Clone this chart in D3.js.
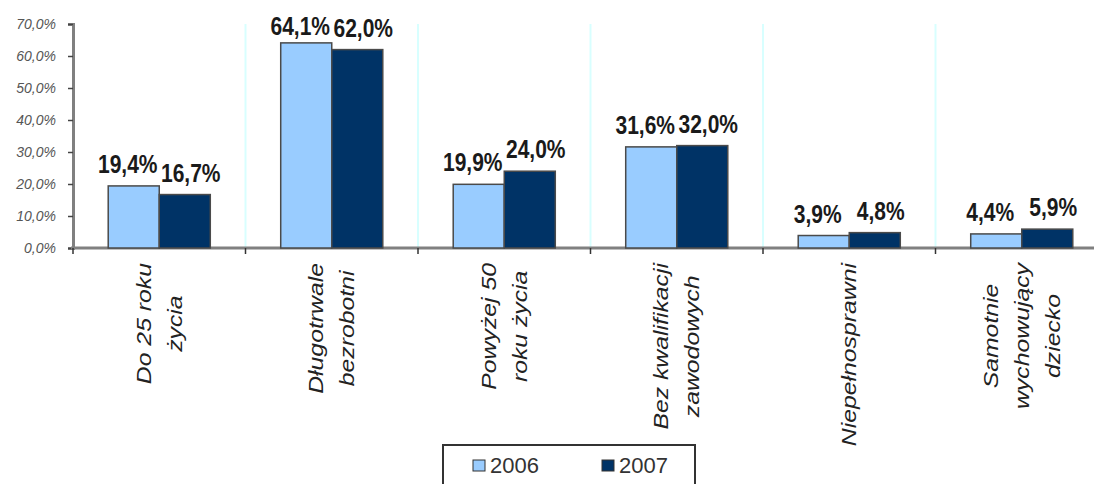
<!doctype html>
<html>
<head>
<meta charset="utf-8">
<title>Bezrobotni 2006-2007</title>
<style>
    body { margin: 0; background: #fff; }
    svg { display: block; font-family: "Liberation Sans", Arial, sans-serif; }
    .bar { stroke: #4a4a4a; stroke-width: 1.5; }
</style>
<script src="https://d3js.org/d3.v7.min.js"></script>
</head>
<body>
<svg width="1094" height="484"></svg>
<script>
// data
var categories = [
    "Do 25 roku\nżycia",
    "Długotrwale\nbezrobotni",
    "Powyżej 50\nroku życia",
    "Bez kwalifikacji\nzawodowych",
    "Niepełnosprawni",
    "Samotnie\nwychowujący\ndziecko"
];
var years = ["2006", "2007"];
var values2006 = [19.4, 64.1, 19.9, 31.6, 3.9, 4.4];
var values2007 = [16.7, 62.0, 24.0, 32.0, 4.8, 5.9];
var yTicks = [0, 10, 20, 30, 40, 50, 60, 70];
var colors = ["#99ccff", "#003366"];

var svg = d3.select("svg");
var fmt = function(v) { return v.toFixed(1).replace(".", ",") + "%"; };

var x0 = d3.scaleBand().domain(d3.range(categories.length)).range([73, 1108]);
var x1 = d3.scaleBand().domain(years).range([0, x0.bandwidth()]).paddingOuter(0.69);
var y = d3.scaleLinear().domain([0, 70]).range([248, 24]);

// light vertical separators between categories
svg.append("g").selectAll("line")
    .data(d3.range(1, categories.length))
    .enter().append("line")
    .attr("x1", function(i) { return x0(i); })
    .attr("x2", function(i) { return x0(i); })
    .attr("y1", y(70)).attr("y2", y(0))
    .attr("stroke", "#d8ffff").attr("stroke-width", 2);

// y axis
var yAxis = svg.append("g")
    .attr("transform", "translate(73,0)")
    .call(d3.axisLeft(y).tickValues(yTicks).tickSize(5).tickPadding(12)
        .tickFormat(function(d) { return d.toFixed(1).replace(".", ",") + "%"; }));
yAxis.select(".domain").attr("stroke", "#808080").attr("stroke-width", 3);
yAxis.selectAll(".tick line").attr("stroke", "#444").attr("stroke-width", 1.5);
yAxis.selectAll(".tick text")
    .attr("font-size", 14).attr("font-style", "italic").attr("fill", "#555")
    .attr("font-family", "Liberation Sans, Arial, sans-serif");

// x axis line + ticks at category boundaries
svg.append("line")
    .attr("x1", 71).attr("x2", 1108).attr("y1", y(0)).attr("y2", y(0))
    .attr("stroke", "#808080").attr("stroke-width", 3);
svg.append("g").selectAll("line")
    .data(d3.range(0, categories.length + 1))
    .enter().append("line")
    .attr("x1", function(i) { return i < categories.length ? x0(i) : x0(i - 1) + x0.bandwidth(); })
    .attr("x2", function(i) { return i < categories.length ? x0(i) : x0(i - 1) + x0.bandwidth(); })
    .attr("y1", y(0)).attr("y2", y(0) + 6)
    .attr("stroke", "#333").attr("stroke-width", 1.5);

// bars
var rows = categories.map(function(c, i) {
    return [{ year: "2006", v: values2006[i], i: i }, { year: "2007", v: values2007[i], i: i }];
});
var groups = svg.append("g").selectAll("g")
    .data(rows)
    .enter().append("g")
    .attr("transform", function(d, i) { return "translate(" + x0(i) + ",0)"; });

groups.selectAll("rect")
    .data(function(d) { return d; })
    .enter().append("rect")
    .attr("class", "bar")
    .attr("x", function(d) { return x1(d.year); })
    .attr("width", x1.bandwidth())
    .attr("y", function(d) { return y(d.v); })
    .attr("height", function(d) { return y(0) - y(d.v); })
    .attr("fill", function(d, j) { return colors[j]; });

// value labels (picture is stretched vertically, so the text is too)
groups.selectAll("text")
    .data(function(d) { return d; })
    .enter().append("text")
    .attr("transform", function(d, j) {
        var tx = x1(d.year) + x1.bandwidth() / 2 + (j === 0 ? -6 : 6);
        var ty = Math.max(y(d.v) - 13, 35);
        return "translate(" + tx + "," + ty + ") scale(1,1.25)";
    })
    .attr("text-anchor", "middle")
    .attr("font-size", 21).attr("font-weight", "bold").attr("fill", "#1a1a1a")
    .text(function(d) { return fmt(d.v); });

// rotated category labels
categories.forEach(function(c, i) {
    var lines = c.split("\n");
    var cx = x0(i) + x0.bandwidth() / 2;
    var g = svg.append("g");
    var texts = lines.map(function(l, k) {
        return g.append("text")
            .attr("font-size", 21).attr("font-style", "italic").attr("fill", "#222")
            .attr("text-anchor", "middle")
            .text(l);
    });
    var maxLen = d3.max(texts, function(t) { return t.node().getComputedTextLength(); }) * 1.18;
    var cy = 263 + maxLen / 2;
    texts.forEach(function(t, k) {
        var lx = cx + (k - (lines.length - 1) / 2) * 31 + 7;
        t.attr("transform", "translate(" + lx + "," + cy + ") scale(1,1.18) rotate(-90)");
    });
});

// legend
var legend = svg.append("g");
legend.append("rect")
    .attr("x", 443).attr("y", 445).attr("width", 252).attr("height", 60)
    .attr("fill", "#fff").attr("stroke", "#333").attr("stroke-width", 2);
var legX = [473, 602];
years.forEach(function(yr, j) {
    legend.append("rect")
        .attr("x", legX[j]).attr("y", 460).attr("width", 12).attr("height", 11)
        .attr("fill", colors[j]).attr("stroke", "#333").attr("stroke-width", 1);
    legend.append("text")
        .attr("x", legX[j] + 17).attr("y", 473)
        .attr("font-size", 22).attr("fill", "#333")
        .text(yr);
});
</script>
</body>
</html>
